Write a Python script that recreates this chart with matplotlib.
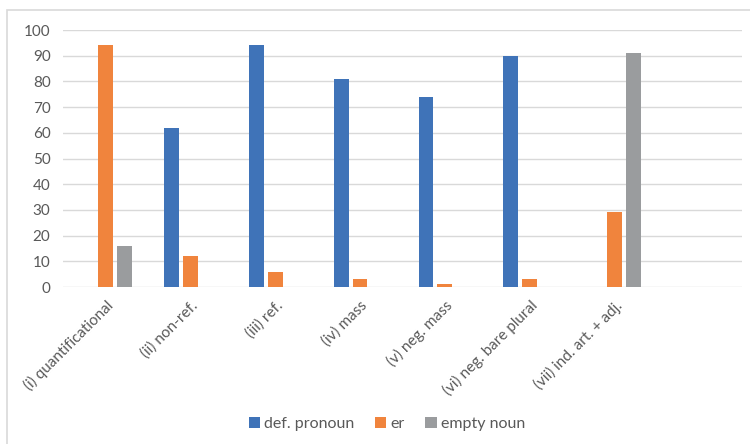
import numpy as np
import matplotlib
matplotlib.use('Agg')
import matplotlib.pyplot as plt
from matplotlib.patches import Rectangle

plt.rcParams['font.family'] = ['Lato', 'DejaVu Sans']

# data
categories = ['(i) quantificational', '(ii) non-ref.', '(iii) ref.', '(iv) mass',
              '(v) neg. mass', '(vi) neg. bare plural', '(vii) ind. art. + adj.', '']
def_pronoun = [0, 62, 94, 81, 74, 90, 0, 0]
er = [94, 12, 6, 3, 1, 3, 29, 0]
empty_noun = [16, 0, 0, 0, 0, 0, 91, 0]
series_names = ['def. pronoun', 'er', 'empty noun']
colors = ['#3F73B8', '#F0843D', '#9A9C9E']

fig = plt.figure(figsize=(7.5, 4.44), dpi=100)
ax = fig.add_axes([0.084, 0.3536, 0.905, 0.5788])

x = np.arange(len(categories))
width = 0.175
offset = 0.222
for i, (vals, name, col) in enumerate(zip([def_pronoun, er, empty_noun], series_names, colors)):
    ax.bar(x + (i - 1) * offset, vals, width, color=col, label=name, zorder=3)

ax.set_xlim(-0.5, len(categories) - 0.5)
ax.set_ylim(0, 100)
ax.set_yticks(range(0, 101, 10))
ax.yaxis.grid(True, color='#D9D9D9', linewidth=1, zorder=0)
ax.tick_params(axis='both', length=0, labelsize=11, colors='#595959')
ax.tick_params(axis='y', pad=9)
for s in ax.spines.values():
    s.set_visible(False)

ax.set_xticks(x)
ax.set_xticklabels(categories, rotation=45, ha='right', rotation_mode='anchor')
ax.tick_params(axis='x', pad=8)

fig.legend(loc='center', bbox_to_anchor=(0.516, 0.045), ncol=3, frameon=False,
           fontsize=11.5, handlelength=0.7, handleheight=0.7, handletextpad=0.25,
           columnspacing=1.3, labelcolor='#595959')

# chart border (only top and left visible in the crop)
fig.patches.append(Rectangle((0.009, -0.1), 1.2, 0.1 + 0.977, transform=fig.transFigure,
                             fill=False, edgecolor='#D9D9D9', linewidth=1.2))

fig.savefig('out.png', dpi=100)
